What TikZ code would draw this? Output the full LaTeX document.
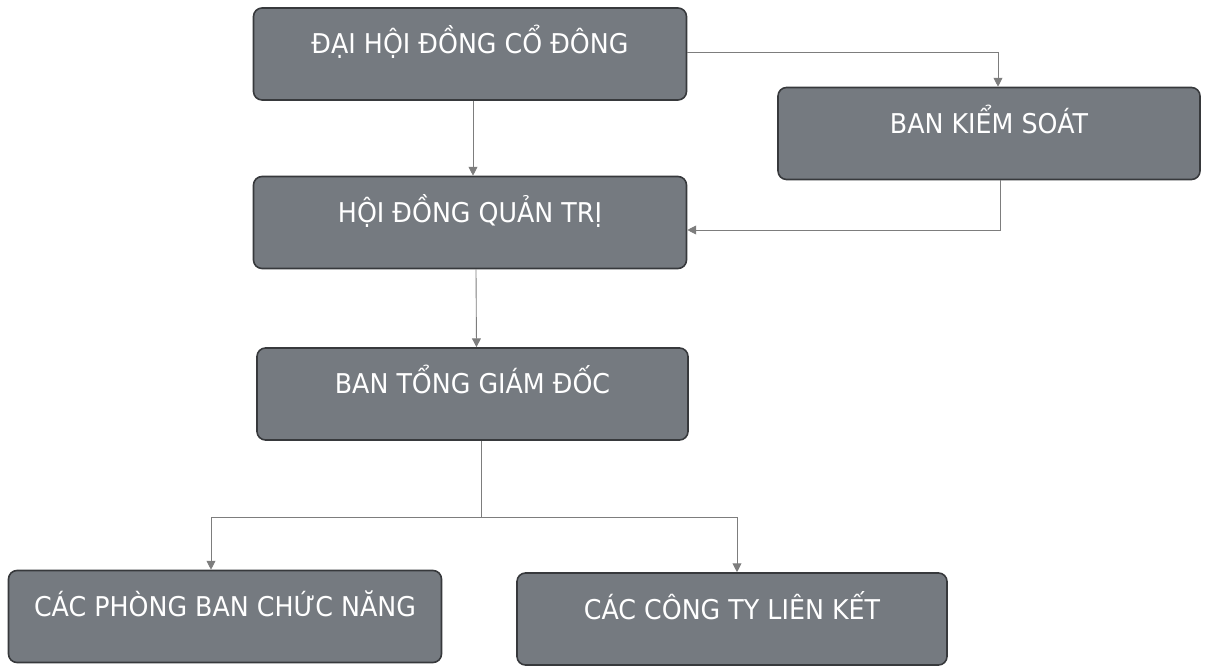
\documentclass[tikz,border=0pt]{standalone}
\usepackage{fontspec}
\setmainfont{DejaVu Sans}[FakeStretch=0.93]
\usetikzlibrary{arrows.meta}
\definecolor{boxfill}{RGB}{117,122,128}
\definecolor{boxline}{RGB}{55,57,60}
\definecolor{linkgray}{RGB}{125,125,125}
\begin{document}
\begin{tikzpicture}[line width=.5pt,
  unit/.style={draw=boxline, line width=.9pt, fill=boxfill, rounded corners=.17cm, text=white,
    font=\fontsize{15.5}{18}\selectfont, minimum width=8.66cm, text height=.92cm, text depth=.92cm, inner ysep=0pt},
  link/.style={draw=linkgray, -{Triangle[width=5pt,length=5pt]}}]
\useasboundingbox (0,0) rectangle (24.44,13.3);
\node[unit] (dhcd) at (9.40,12.22) {ĐẠI HỘI ĐỒNG CỔ ĐÔNG};
\node[unit] (hdqt) at (9.40,8.85) {HỘI ĐỒNG QUẢN TRỊ};
\node[unit, minimum width=8.44cm] (bks) at (19.78,10.63) {BAN KIỂM SOÁT};
\node[unit, minimum width=8.62cm] (btgd) at (9.45,5.42) {BAN TỔNG GIÁM ĐỐC};
\node[unit] (pbcn) at (4.50,0.97) {CÁC PHÒNG BAN CHỨC NĂNG};
\node[unit, minimum width=8.6cm] (ctlk) at (14.64,0.92) {CÁC CÔNG TY LIÊN KẾT};
\coordinate (split) at (9.62,2.96);
\draw[link] ([xshift=.06cm]dhcd.south) -- ([xshift=.06cm]hdqt.north);
\draw[link] ([yshift=.04cm]dhcd.east) -| ([xshift=.18cm]bks.north);
\draw[link] ([xshift=.22cm]bks.south) |- ([yshift=-.15cm]hdqt.east);
\draw[link] ([xshift=.12cm]hdqt.south) -- ([xshift=.08cm]btgd.north);
\draw[linkgray] ([xshift=.17cm]btgd.south) -- (split);
\draw[link] (split) -| ([xshift=-.28cm]pbcn.north);
\draw[link] (split) -| ([xshift=.1cm]ctlk.north);
\end{tikzpicture}
\end{document}
